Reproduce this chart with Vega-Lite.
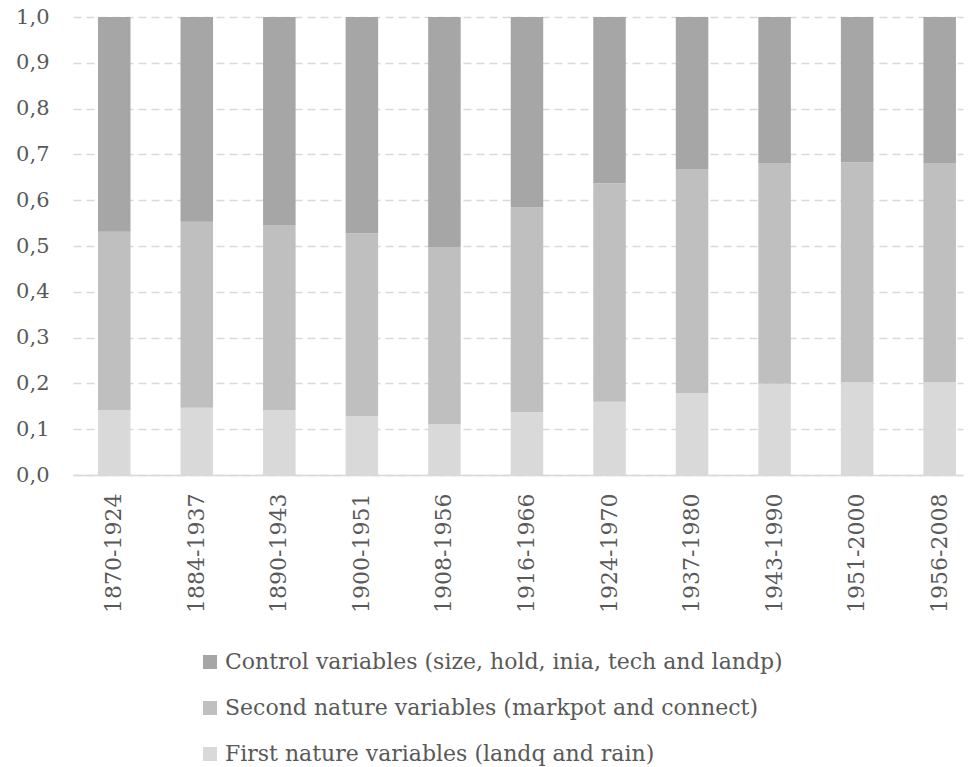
{
  "$schema": "https://vega.github.io/schema/vega-lite/v6.json",
  "autosize": "none",
  "width": 890,
  "height": 458,
  "padding": {"left": 73, "top": 17, "right": 6, "bottom": 292},
  "background": "white",
  "config": {
    "locale": {"number": {"decimal": ",", "thousands": ".", "grouping": [3], "currency": ["", " €"]}},
    "view": {"stroke": null},
    "font": "DejaVu Serif"
  },
  "data": {
    "values": [
      {"period": "1870-1924", "tier": 1, "group": "First nature variables (landq and rain)", "share": 0.142},
      {"period": "1870-1924", "tier": 2, "group": "Second nature variables (markpot and connect)", "share": 0.389},
      {"period": "1870-1924", "tier": 3, "group": "Control variables (size, hold, inia, tech and landp)", "share": 0.469},
      {"period": "1884-1937", "tier": 1, "group": "First nature variables (landq and rain)", "share": 0.147},
      {"period": "1884-1937", "tier": 2, "group": "Second nature variables (markpot and connect)", "share": 0.406},
      {"period": "1884-1937", "tier": 3, "group": "Control variables (size, hold, inia, tech and landp)", "share": 0.447},
      {"period": "1890-1943", "tier": 1, "group": "First nature variables (landq and rain)", "share": 0.142},
      {"period": "1890-1943", "tier": 2, "group": "Second nature variables (markpot and connect)", "share": 0.404},
      {"period": "1890-1943", "tier": 3, "group": "Control variables (size, hold, inia, tech and landp)", "share": 0.454},
      {"period": "1900-1951", "tier": 1, "group": "First nature variables (landq and rain)", "share": 0.129},
      {"period": "1900-1951", "tier": 2, "group": "Second nature variables (markpot and connect)", "share": 0.399},
      {"period": "1900-1951", "tier": 3, "group": "Control variables (size, hold, inia, tech and landp)", "share": 0.472},
      {"period": "1908-1956", "tier": 1, "group": "First nature variables (landq and rain)", "share": 0.111},
      {"period": "1908-1956", "tier": 2, "group": "Second nature variables (markpot and connect)", "share": 0.387},
      {"period": "1908-1956", "tier": 3, "group": "Control variables (size, hold, inia, tech and landp)", "share": 0.502},
      {"period": "1916-1966", "tier": 1, "group": "First nature variables (landq and rain)", "share": 0.137},
      {"period": "1916-1966", "tier": 2, "group": "Second nature variables (markpot and connect)", "share": 0.447},
      {"period": "1916-1966", "tier": 3, "group": "Control variables (size, hold, inia, tech and landp)", "share": 0.416},
      {"period": "1924-1970", "tier": 1, "group": "First nature variables (landq and rain)", "share": 0.160},
      {"period": "1924-1970", "tier": 2, "group": "Second nature variables (markpot and connect)", "share": 0.477},
      {"period": "1924-1970", "tier": 3, "group": "Control variables (size, hold, inia, tech and landp)", "share": 0.363},
      {"period": "1937-1980", "tier": 1, "group": "First nature variables (landq and rain)", "share": 0.179},
      {"period": "1937-1980", "tier": 2, "group": "Second nature variables (markpot and connect)", "share": 0.489},
      {"period": "1937-1980", "tier": 3, "group": "Control variables (size, hold, inia, tech and landp)", "share": 0.332},
      {"period": "1943-1990", "tier": 1, "group": "First nature variables (landq and rain)", "share": 0.199},
      {"period": "1943-1990", "tier": 2, "group": "Second nature variables (markpot and connect)", "share": 0.482},
      {"period": "1943-1990", "tier": 3, "group": "Control variables (size, hold, inia, tech and landp)", "share": 0.319},
      {"period": "1951-2000", "tier": 1, "group": "First nature variables (landq and rain)", "share": 0.203},
      {"period": "1951-2000", "tier": 2, "group": "Second nature variables (markpot and connect)", "share": 0.480},
      {"period": "1951-2000", "tier": 3, "group": "Control variables (size, hold, inia, tech and landp)", "share": 0.317},
      {"period": "1956-2008", "tier": 1, "group": "First nature variables (landq and rain)", "share": 0.203},
      {"period": "1956-2008", "tier": 2, "group": "Second nature variables (markpot and connect)", "share": 0.478},
      {"period": "1956-2008", "tier": 3, "group": "Control variables (size, hold, inia, tech and landp)", "share": 0.319}
    ]
  },
  "mark": {"type": "bar"},
  "encoding": {
    "x": {
      "field": "period",
      "type": "nominal",
      "sort": null,
      "title": null,
      "scale": {"paddingInner": 0.606, "paddingOuter": 0.194, "align": 0.78},
      "axis": {
        "labelAngle": -90,
        "labelAlign": "right",
        "labelBaseline": "middle",
        "labelFont": "DejaVu Serif",
        "labelFontSize": 22,
        "labelColor": "#595959",
        "labelPadding": 18,
        "ticks": false,
        "domainColor": "#d9d9d9",
        "domainWidth": 1.5,
        "zindex": 1
      }
    },
    "y": {
      "field": "share",
      "type": "quantitative",
      "stack": "zero",
      "title": null,
      "scale": {"domain": [0, 1], "nice": false},
      "axis": {
        "values": [0, 0.1, 0.2, 0.3, 0.4, 0.5, 0.6, 0.7, 0.8, 0.9, 1.0],
        "format": ".1f",
        "labelFont": "DejaVu Serif",
        "labelFontSize": 21,
        "labelColor": "#595959",
        "labelPadding": 24,
        "ticks": false,
        "domain": false,
        "gridColor": "#d9d9d9",
        "gridWidth": 1.5,
        "gridDash": [8, 5]
      }
    },
    "order": {"field": "tier", "type": "quantitative", "sort": "ascending"},
    "color": {
      "field": "group",
      "type": "nominal",
      "scale": {
        "domain": [
          "Control variables (size, hold, inia, tech and landp)",
          "Second nature variables (markpot and connect)",
          "First nature variables (landq and rain)"
        ],
        "range": ["#a6a6a6", "#bfbfbf", "#d9d9d9"]
      },
      "legend": {
        "title": null,
        "orient": "none",
        "legendX": 126,
        "legendY": 634,
        "direction": "vertical",
        "symbolType": "square",
        "symbolSize": 196,
        "symbolStrokeWidth": 0,
        "labelFont": "DejaVu Serif",
        "labelFontSize": 22,
        "labelColor": "#595959",
        "labelLimit": 0,
        "labelOffset": 4,
        "rowPadding": 24
      }
    }
  }
}
